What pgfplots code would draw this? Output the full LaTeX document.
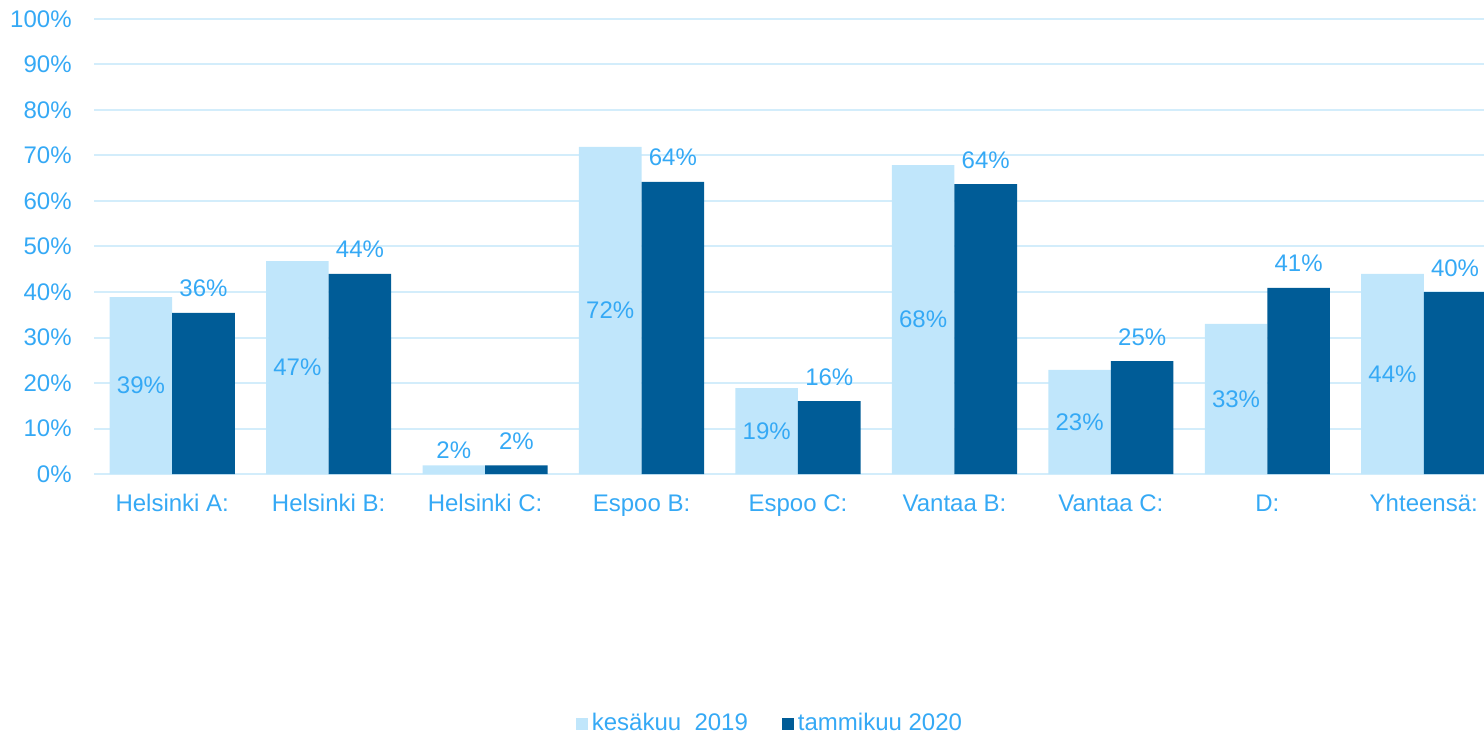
\documentclass[border=0pt]{standalone}
\usepackage{pgfplots}
\pgfplotsset{compat=1.18}
\usepackage{fontspec}
\setmainfont{Liberation Sans}
\definecolor{lightbar}{HTML}{C0E6FB}
\definecolor{darkbar}{HTML}{005C97}
\definecolor{txt}{HTML}{35A9F5}
\definecolor{gridc}{HTML}{D3EDFB}
\begin{document}
\fontsize{12pt}{14pt}\selectfont
\begin{tikzpicture}
\useasboundingbox (0,0) rectangle (742pt,367pt);
\clip (0,0) rectangle (742pt,367pt);
\begin{axis}[
  at={(47pt,130pt)}, anchor=south west,
  scale only axis, width=704pt, height=227.5pt,
  xmin=-0.5, xmax=8.5, ymin=0, ymax=100,
  /pgf/number format/assume math mode=true,
  axis line style={draw=none},
  major tick length=0pt,
  ytick={0,10,...,100},
  yticklabel={\pgfmathprintnumber{\tick}\%},
  yticklabel style={anchor=east, inner sep=0pt, xshift=-11pt, text=txt, font=\fontsize{12pt}{14pt}\selectfont},
  xtick={0,...,8},
  xticklabels={Helsinki A:,Helsinki B:,Helsinki C:,Espoo B:,Espoo C:,Vantaa B:,Vantaa C:,D:,Yhteensä:},
  xticklabel style={anchor=base, inner sep=0pt, yshift=-18.5pt, text=txt, font=\fontsize{12pt}{14pt}\selectfont},
  ymajorgrids, grid style={gridc, line width=1pt},
  legend style={at={(0.4808,-0.549)}, anchor=center, draw=none, fill=none,
    legend columns=2, font=\fontsize{12pt}{14pt}\selectfont, text=txt,
    /tikz/every even column/.append style={column sep=15pt},
    inner sep=0pt},
  legend image code/.code={\fill[#1] (0pt,-3pt) rectangle (6pt,3pt);},
]
\addplot[ybar, bar width=0.4, bar shift=-0.2, fill=lightbar, draw=none] coordinates {
(0,38.9) (1,46.8) (2,1.9) (3,71.9) (4,18.9) (5,67.9) (6,22.9) (7,33.0) (8,44.0)};
\addlegendentry{kes\"akuu\ \ 2019}
\addplot[ybar, bar width=0.4, bar shift=0.2, fill=darkbar, draw=none] coordinates {
(0,35.4) (1,44.0) (2,1.9) (3,64.2) (4,16.0) (5,63.7) (6,24.8) (7,40.9) (8,40.0)};
\addlegendentry{tammikuu 2020}
% labels inside light bars (centred)
\addplot[only marks, mark=none, forget plot, point meta=explicit symbolic,
  nodes near coords, nodes near coords style={anchor=center, text=txt, font=\fontsize{12pt}{14pt}\selectfont}]
coordinates {
(-0.2,19.45) [39\%] (0.8,23.4) [47\%] (2.8,35.95) [72\%] (3.8,9.45) [19\%]
(4.8,33.95) [68\%] (5.8,11.45) [23\%] (6.8,16.5) [33\%] (7.8,22.0) [44\%]};
% light small bar label above
\addplot[only marks, mark=none, forget plot, point meta=explicit symbolic,
  nodes near coords, nodes near coords style={anchor=base, inner sep=0pt, yshift=3.5pt, text=txt, font=\fontsize{12pt}{14pt}\selectfont}]
coordinates {(1.8,1.9) [2\%]};
% labels above dark bars
\addplot[only marks, mark=none, forget plot, point meta=explicit symbolic,
  nodes near coords, nodes near coords style={anchor=base, inner sep=0pt, yshift=8pt, text=txt, font=\fontsize{12pt}{14pt}\selectfont}]
coordinates {
(0.2,35.4) [36\%] (1.2,44.0) [44\%] (2.2,1.9) [2\%] (3.2,64.2) [64\%] (4.2,16.0) [16\%]
(5.2,63.7) [64\%] (6.2,24.8) [25\%] (7.2,40.9) [41\%] (8.2,40.0) [40\%]};
\end{axis}
\end{tikzpicture}
\end{document}
